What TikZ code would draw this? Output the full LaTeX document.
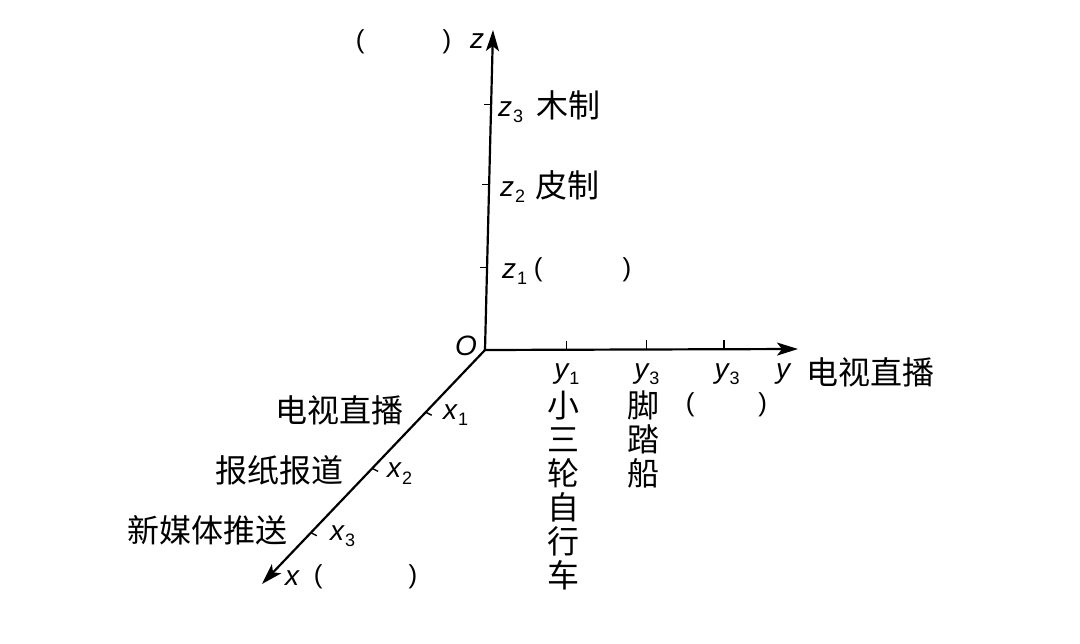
\documentclass[tikz,border=0pt]{standalone}
\usepackage{fontspec}
\setmainfont{Liberation Sans}
\newfontfamily\cjk{Noto Sans CJK SC}
\usetikzlibrary{arrows.meta,calc}
\newcommand\lsub[2]{\textit{#1}\kern1pt\raisebox{-6pt}{\fontsize{18}{18}\selectfont\upshape #2}}
\newcommand\blank[1]{(\hspace{#1})}
\begin{document}
\begin{tikzpicture}[x=1pt,y=-1pt,
  axis/.style={line width=2.2pt,-{Stealth[length=21pt,width=13pt,inset=5pt]}},
  tickmark/.style={line width=1.4pt},
  zh/.style={font=\cjk\fontsize{32}{34}\selectfont, inner sep=0pt},
  br/.style={font=\fontsize{26}{28}\selectfont, inner sep=0pt},
  lt/.style={font=\fontsize{28}{30}\selectfont\itshape, inner sep=0pt},
  col/.style={zh, align=center, text width=34pt},
]
\useasboundingbox[fill=white] (0,0) rectangle (1080,644);
\coordinate (O) at (485,350);
\coordinate (ztip) at (493,30);
\coordinate (ytip) at (798,349);
\coordinate (xtip) at (262,584);
\draw[axis] (O) -- (ztip);
\draw[axis] (O) -- (ytip);
\draw[axis] (O) -- (xtip);

% z ticks
\coordinate (tz3) at ($(O)!0.768!(ztip)$);
\coordinate (tz2) at ($(O)!0.517!(ztip)$);
\coordinate (tz1) at ($(O)!0.257!(ztip)$);
\foreach \c in {tz1,tz2,tz3} \draw[tickmark] (\c) -- ++(-7,0);
% y ticks
\coordinate (ty1) at ($(O)!0.260!(ytip)$);
\coordinate (ty2) at ($(O)!0.516!(ytip)$);
\coordinate (ty3) at ($(O)!0.763!(ytip)$);
\foreach \c in {ty1,ty2,ty3} \draw[tickmark] (\c) -- ++(0,-9);
% x ticks
\coordinate (tx1) at ($(O)!0.266!(xtip)$);
\coordinate (tx2) at ($(O)!0.506!(xtip)$);
\coordinate (tx3) at ($(O)!0.781!(xtip)$);
\foreach \c in {tx1,tx2,tx3} \draw[tickmark] (\c) -- ++(6,3);

% origin
\node[lt] (Olab) at (466,346) {O};

% z axis labels
\node[lt, anchor=base] (zlab) at (477,49) {z};
\node[br] (ztop) at (403.5,42) {\blank{78pt}};
\node[lt, anchor=base west] (z3) at (498,117) {\lsub{z}{3}};
\node[zh, anchor=west] (z3t) at (536,105) {木制};
\node[lt, anchor=base west] (z2) at (500,197) {\lsub{z}{2}};
\node[zh, anchor=west] (z2t) at (535,185) {皮制};
\node[lt, anchor=base west] (z1) at (502,279) {\lsub{z}{1}};
\node[br] (z1t) at (582.5,270) {\blank{80pt}};

% y axis labels
\node[lt, anchor=base] (y1) at (567,379) {\lsub{y}{1}};
\node[lt, anchor=base] (y2) at (647,379) {\lsub{y}{3}};
\node[lt, anchor=base] (y3) at (727,379) {\lsub{y}{3}};
\node[lt, anchor=base] (ylab) at (783,379) {y};
\node[zh, anchor=west] (ytxt) at (806,372) {电视直播};
\node[col, anchor=north] (c1) at (563,391) {小\\三\\轮\\自\\行\\车};
\node[col, anchor=north] (c2) at (643,391) {脚\\踏\\船};
\node[br] (c3) at (726.5,405) {\blank{64pt}};

% x axis labels
\node[zh, anchor=east] (x1t) at (404,410) {电视直播};
\node[lt, anchor=base west] (x1) at (443,420) {\lsub{x}{1}};
\node[zh, anchor=east] (x2t) at (344,470) {报纸报道};
\node[lt, anchor=base west] (x2) at (387,478) {\lsub{x}{2}};
\node[zh, anchor=east] (x3t) at (288,530) {新媒体推送};
\node[lt, anchor=base west] (x3) at (330,540) {\lsub{x}{3}};
\node[lt, anchor=base west] (xlab) at (285,585) {x};
\node[br] (xb) at (365.5,577) {\blank{86pt}};
\end{tikzpicture}
\end{document}
